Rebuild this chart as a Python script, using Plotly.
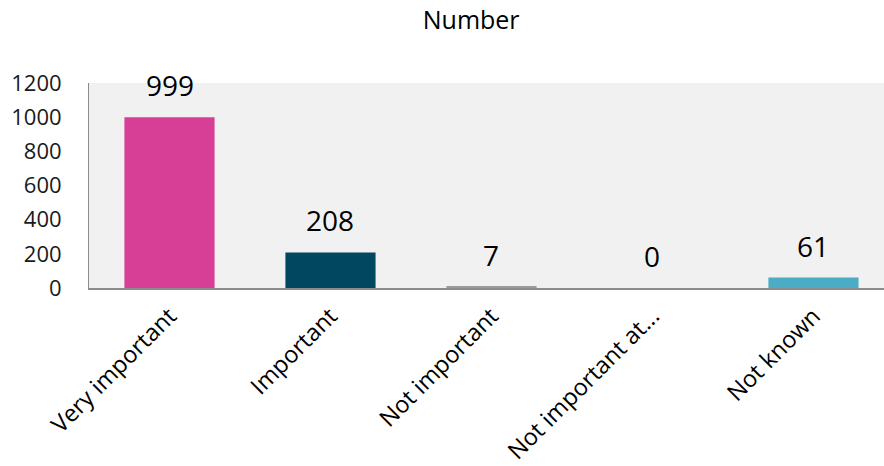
import plotly.graph_objects as go

categories = ["Very important", "Important", "Not important", "Not important at...", "Not known"]
counts = [999, 208, 7, 0, 61]
bar_colors = ["#D63F95", "#00475F", "#9A9A9A", "#9A9A9A", "#4BACC6"]

FONT = "Open Sans"

fig = go.Figure()
fig.add_trace(go.Bar(
    x=categories,
    y=counts,
    marker=dict(color=bar_colors, line=dict(width=0)),
    width=0.56,
    hoverinfo="skip",
))

# value labels placed above each bar
for cat, val in zip(categories, counts):
    fig.add_annotation(
        x=cat, y=val, text=str(val), showarrow=False,
        xref="x", yref="y", yanchor="bottom", yshift=11,
        font=dict(family=FONT, size=28, color="#000000"),
    )

fig.update_layout(
    width=884, height=466,
    margin=dict(l=89, r=0, t=83, b=178, autoexpand=False),
    paper_bgcolor="white",
    plot_bgcolor="#F1F1F1",
    showlegend=False,
    title=dict(text="Number", x=0.533, xanchor="center", y=0.957, yanchor="middle",
               font=dict(family=FONT, size=25, color="#000000")),
    xaxis=dict(
        type="category",
        range=[-0.5, 4.438],
        tickangle=-45,
        tickfont=dict(family=FONT, size=23.5, color="#000000"),
        ticklabelstandoff=3,
        automargin=False,
        showline=True, linecolor="#8C8C8C", linewidth=2,
        showgrid=False, ticks="",
    ),
    yaxis=dict(
        range=[0, 1200],
        tickvals=[0, 200, 400, 600, 800, 1000, 1200],
        tickfont=dict(family=FONT, size=22, color="#1A1A1A"),
        ticklabelstandoff=22,
        automargin=False,
        showline=True, linecolor="#8C8C8C", linewidth=1,
        showgrid=False, zeroline=False, ticks="",
    ),
)

fig.write_html("out.html")
